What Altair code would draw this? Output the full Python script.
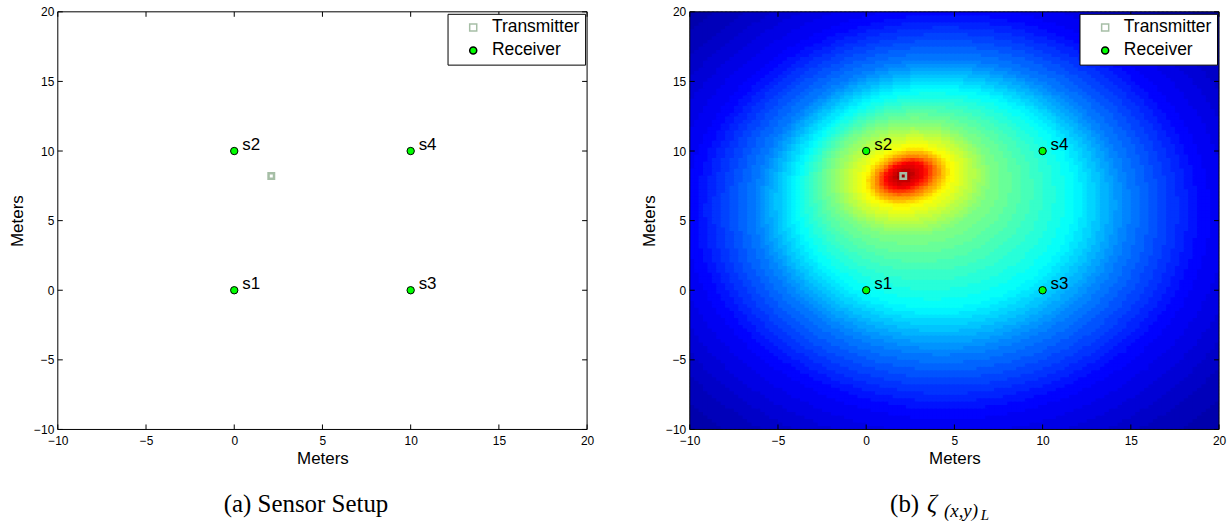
import altair as alt
import numpy as np
import pandas as pd

alt.data_transformers.disable_max_rows()

# ---------------- data ----------------
receiver_names = ["s1", "s2", "s3", "s4"]
receiver_x = [0, 0, 10, 10]
receiver_y = [0, 10, 0, 10]
transmitter_x = [2.1]
transmitter_y = [8.2]

tick_values = [-10, -5, 0, 5, 10, 15, 20]

# contour rings of the field in panel (b): jet level (0..1), centre, semi-axes, tilt (deg)
ring_level = [0.95, 0.875, 0.75, 0.625, 0.5, 0.375, 0.25, 0.125, 0.05, 0.0]
ring_cx = [2.1, 2.2, 2.3, 2.35, 2.5, 3.9, 4.3, 4.6, 4.8, 5.0]
ring_cy = [8.2, 8.25, 8.2, 8.15, 8.0, 6.6, 6.0, 5.6, 5.3, 5.0]
ring_a = [0.35, 1.2, 1.75, 2.5, 4.5, 7.9, 10.5, 14.5, 19.0, 24.0]
ring_b = [0.25, 0.85, 1.3, 2.0, 4.1, 7.85, 10.5, 14.5, 19.0, 24.0]
ring_tilt = [30, 30, 28, 25, 10, 0, 0, 0, 0, 0]

# MATLAB jet colour map, anchors evenly spaced over its 64 entries
jet_colors = ["#000090", "#0000ff", "#0080ff", "#00ffff", "#80ff80",
              "#ffff00", "#ff8000", "#ff0000", "#800000"]
jet_index = [0, 7.875, 15.75, 23.625, 31.5, 39.375, 47.25, 55.125, 63]

# ---------------- field raster built from the rings ----------------
step = 0.25
edges = np.arange(-10, 20, step)
centres = edges + step / 2
X, Y = np.meshgrid(centres, centres)
Xe, Ye = np.meshgrid(edges, edges)
n = len(ring_level)
R = []
for k in range(n):
    th = np.deg2rad(ring_tilt[k])
    dx = X - ring_cx[k]
    dy = Y - ring_cy[k]
    u = dx * np.cos(th) + dy * np.sin(th)
    v = -dx * np.sin(th) + dy * np.cos(th)
    R.append(np.sqrt((u / ring_a[k]) ** 2 + (v / ring_b[k]) ** 2))
level = np.zeros_like(X)
for k in range(n - 2, -1, -1):
    m = (R[k] > 1) & (R[k + 1] <= 1)
    d_in = (R[k][m] - 1) * (ring_a[k] + ring_b[k]) / 2
    d_out = (1 - R[k + 1][m]) * (ring_a[k + 1] + ring_b[k + 1]) / 2
    t = d_in / (d_in + d_out + 1e-9)
    level[m] = ring_level[k] + t * (ring_level[k + 1] - ring_level[k])
m0 = R[0] <= 1
level[m0] = 1 - (1 - ring_level[0]) * R[0][m0]
q = np.clip(np.round(level * 63), 0, 63).astype(int)
heat_df = pd.DataFrame({"x": Xe.ravel().round(3), "y": Ye.ravel().round(3), "q": q.ravel()})

# ---------------- chart ----------------
W, H = 531, 419
FONT = "Liberation Sans"

xscale = alt.Scale(domain=[-10, 20], nice=False, zero=False)
yscale = alt.Scale(domain=[-10, 20], nice=False, zero=False)
xaxis = alt.Axis(values=tick_values, ticks=False, tickSize=0, domain=False, grid=False,
                 labelFlush=False, labelOverlap=False, labelFont=FONT, labelFontSize=12,
                 labelColor="black", labelPadding=6, title="Meters", titleFont=FONT,
                 titleFontSize=17, titleFontWeight="normal", titleColor="black",
                 titlePadding=4, zindex=1)
yaxis = alt.Axis(values=tick_values, ticks=False, tickSize=0, domain=False, grid=False,
                 labelFlush=False, labelOverlap=False, labelFont=FONT, labelFontSize=12,
                 labelColor="black", labelPadding=4, title="Meters", titleFont=FONT,
                 titleFontSize=17, titleFontWeight="normal", titleColor="black",
                 titlePadding=7, zindex=1)

pts = pd.DataFrame({
    "x": transmitter_x + receiver_x,
    "y": transmitter_y + receiver_y,
    "type": ["Transmitter"] * len(transmitter_x) + ["Receiver"] * len(receiver_x),
    "name": [""] * len(transmitter_x) + receiver_names,
})
ticks_df = pd.DataFrame({"v": tick_values})

legend = alt.Legend(title=None, orient="none", legendX=391, legendY=2, fillColor="white",
                    strokeColor="black", padding=5, labelFontSize=17.5, labelFont=FONT,
                    labelColor="black", symbolSize=50, symbolStrokeWidth=1.5, rowPadding=4,
                    symbolOffset=12, labelOffset=10, cornerRadius=0)
types = ["Transmitter", "Receiver"]
shape_enc = alt.Shape("type:N", scale=alt.Scale(domain=types, range=["square", "circle"]), legend=legend)
fill_enc = alt.Fill("type:N", scale=alt.Scale(domain=types, range=["transparent", "#00ff00"]), legend=legend)
stroke_enc = alt.Stroke("type:N", scale=alt.Scale(domain=types, range=["#a6bea6", "#000000"]), legend=legend)


def X_(f):
    return alt.X(f, scale=xscale, axis=xaxis)


def Y_(f):
    return alt.Y(f, scale=yscale, axis=yaxis)


def panel(with_heat, captions):
    layers = []
    if with_heat:
        layers.append(
            alt.Chart(heat_df).transform_calculate(
                x2=f"datum.x + {step * 1.5}", y2=f"datum.y + {step * 1.5}"
            ).mark_rect(clip=True).encode(
                x=X_("x:Q"), x2="x2:Q", y=Y_("y:Q"), y2="y2:Q",
                color=alt.Color("q:Q", scale=alt.Scale(domain=jet_index, range=jet_colors,
                                                       interpolate="rgb", clamp=True), legend=None),
            )
        )
    tk = alt.Chart(ticks_df)
    layers += [
        tk.mark_rule(color="black", strokeWidth=1).encode(x=X_("v:Q"), y=alt.value(H), y2=alt.value(H - 5)),
        tk.mark_rule(color="black", strokeWidth=1).encode(x=X_("v:Q"), y=alt.value(0), y2=alt.value(5)),
        tk.mark_rule(color="black", strokeWidth=1).encode(y=Y_("v:Q"), x=alt.value(0), x2=alt.value(5)),
        tk.mark_rule(color="black", strokeWidth=1).encode(y=Y_("v:Q"), x=alt.value(W), x2=alt.value(W - 5)),
        alt.Chart(ticks_df.head(1)).mark_rect(fillOpacity=0, stroke="black", strokeWidth=1).encode(
            x=alt.value(0), x2=alt.value(W), y=alt.value(0), y2=alt.value(H)),
        alt.Chart(pts).transform_filter("datum.type == 'Transmitter'").mark_point(
            filled=True, size=30, strokeWidth=2.5, opacity=1).encode(
            x=X_("x:Q"), y=Y_("y:Q"), shape=shape_enc, fill=fill_enc, stroke=stroke_enc),
        alt.Chart(pts).transform_filter("datum.type == 'Receiver'").mark_point(
            filled=True, size=55, strokeWidth=1, opacity=1).encode(
            x=X_("x:Q"), y=Y_("y:Q"), shape=shape_enc, fill=fill_enc, stroke=stroke_enc),
        alt.Chart(pts).transform_filter("datum.type == 'Receiver'").mark_text(
            align="left", baseline="middle", dx=8, dy=-6, fontSize=17, font=FONT, color="black").encode(
            x=X_("x:Q"), y=Y_("y:Q"), text="name:N"),
    ]
    layers += captions
    return alt.layer(*layers).properties(width=W, height=H)


def cap(text, x, y, size, style="normal", align="left"):
    return alt.Chart(pd.DataFrame({"t": [text]})).mark_text(
        align=align, baseline="alphabetic", font="Liberation Serif", fontSize=size,
        fontStyle=style, color="black").encode(x=alt.value(x), y=alt.value(y), text="t:N")


caption_a_text = "(a) Sensor Setup"
caption_b_parts = ["(b)", "ζ", "(x,y)", "L"]

panel_a = panel(False, [cap(caption_a_text, 249, 502, 25, align="center")])
panel_b = panel(True, [
    cap(caption_b_parts[0], 201, 502, 25),
    cap(caption_b_parts[1], 238, 502, 25, style="italic"),
    cap(caption_b_parts[2], 255, 507, 19, style="italic"),
    cap(caption_b_parts[3], 292, 510, 15, style="italic"),
])

chart = alt.hconcat(panel_a, panel_b, spacing=46).resolve_scale(
    x="independent", y="independent", shape="independent", fill="independent",
    stroke="independent", color="independent"
).properties(
    padding={"left": 8, "top": 5, "right": 5, "bottom": 0},
    background="white",
).configure_view(stroke=None)

chart.save("out.html", embed_options={"renderer": "svg", "actions": False})
